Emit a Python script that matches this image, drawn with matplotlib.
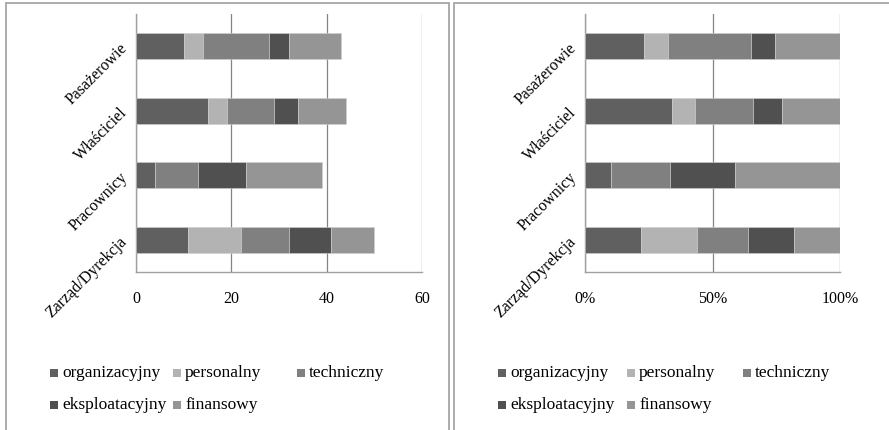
import matplotlib.pyplot as plt
from matplotlib.patches import Rectangle
import numpy as np

# Respondent groups (bottom to top) and counts per problem type
categories = ['Zarząd/Dyrekcja', 'Pracownicy', 'Właściciel', 'Pasażerowie']
series_names = ['organizacyjny', 'personalny', 'techniczny', 'eksploatacyjny', 'finansowy']
organizacyjny = [11, 4, 15, 10]
personalny = [11, 0, 4, 4]
techniczny = [10, 9, 10, 14]
eksploatacyjny = [9, 10, 5, 4]
finansowy = [9, 16, 10, 11]

count_ticks = [0, 20, 40, 60]
pct_ticks = [0, 0.5, 1.0]
pct_labels = ['0%', '50%', '100%']

colors = ['#606060', '#b3b3b3', '#808080', '#505050', '#959595']
FONT = 'Liberation Serif'
FS = 11.5
FS_LEG = 12.5

W, H = 889, 430
fig = plt.figure(figsize=(W / 100, H / 100), dpi=100)
plt.rcParams['font.family'] = FONT


def px_rect(x0, y0, x1, y1):
    """Convert pixel box (top-left origin) to figure fraction [l, b, w, h]."""
    return [x0 / W, 1 - y1 / H, (x1 - x0) / W, (y1 - y0) / H]


# panel frames
for x0, x1 in [(6, 449), (454, 895)]:
    fig.patches.append(Rectangle((x0 / W, -0.05), (x1 - x0) / W, 1.05 - 3 / H,
                                 transform=fig.transFigure, fill=False,
                                 edgecolor='#a6a6a6', linewidth=1.3))

data = np.array([organizacyjny, personalny, techniczny, eksploatacyjny, finansowy], dtype=float)
shares = data / data.sum(axis=0)

ax1 = fig.add_axes(px_rect(136, 14, 422, 272))
ax2 = fig.add_axes(px_rect(585, 14, 840, 272))

y = np.arange(len(categories))
for ax, values in [(ax1, data), (ax2, shares)]:
    left = np.zeros(len(categories))
    for name, vals, c in zip(series_names, values, colors):
        ax.barh(y, vals, left=left, height=0.4, color=c, edgecolor='#cfcfcf',
                linewidth=0.4, label=name, zorder=3)
        left += vals
    ax.set_ylim(-0.5, len(categories) - 0.5)
    ax.set_yticks(y)
    ax.set_yticklabels(categories, rotation=45, ha='right', va='center',
                       rotation_mode='anchor', fontsize=FS, fontfamily=FONT)
    ax.tick_params(axis='y', length=0, pad=8)
    ax.tick_params(axis='x', length=0, pad=14, labelsize=FS)
    ax.grid(axis='x', color='#858585', linewidth=0.9, zorder=0)
    for side in ['top', 'right']:
        ax.spines[side].set_visible(False)
    for side in ['left', 'bottom']:
        ax.spines[side].set_color('#a0a0a0')
        ax.spines[side].set_linewidth(1.0)
    for lbl in ax.get_xticklabels():
        lbl.set_fontfamily(FONT)

ax1.set_xlim(0, 60)
ax1.set_xticks(count_ticks)
ax1.set_xticklabels([str(t) for t in count_ticks], fontfamily=FONT)
ax2.set_xlim(0, 1)
ax2.set_xticks(pct_ticks)
ax2.set_xticklabels(pct_labels, fontfamily=FONT)

# legends below each chart
legend_cols = {ax1: [50, 173, 297], ax2: [498, 627, 743]}
rows = [373, 405]
for ax, cols in legend_cols.items():
    for i, (name, c) in enumerate(zip(series_names, colors)):
        cx = cols[i % 3]
        cy = rows[i // 3]
        fig.patches.append(Rectangle((cx / W, 1 - (cy + 4) / H), 8 / W, 8 / H,
                                     transform=fig.transFigure, facecolor=c,
                                     edgecolor='none'))
        fig.text((cx + 12) / W, 1 - cy / H, name, fontsize=FS_LEG, fontfamily=FONT,
                 ha='left', va='center')

fig.savefig('out.png', dpi=100)
